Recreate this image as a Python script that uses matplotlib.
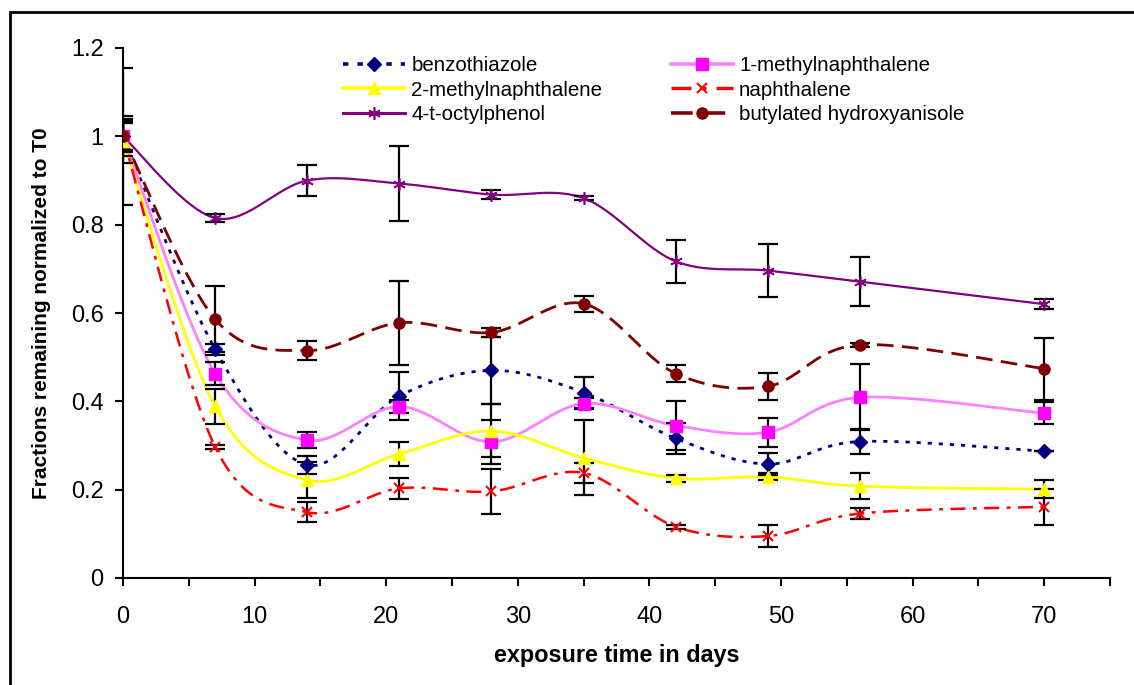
import numpy as np
import matplotlib
matplotlib.use("Agg")
import matplotlib.pyplot as plt
from matplotlib.patches import Rectangle
from matplotlib.ticker import MultipleLocator

plt.rcParams['font.family'] = ['Liberation Sans', 'DejaVu Sans']

days = [0, 7, 14, 21, 28, 35, 42, 49, 56, 70]

names = ["benzothiazole", "1-methylnaphthalene", "2-methylnaphthalene",
         "naphthalene", "4-t-octylphenol", "butylated hydroxyanisole"]

benzothiazole = [1.0, 0.518, 0.256, 0.412, 0.470, 0.420, 0.316, 0.258, 0.309, 0.287]
benzothiazole_err = [0.045, 0.012, 0.02, 0.055, 0.075, 0.035, 0.035, 0.025, 0.028, 0.0]

methylnaph1 = [1.0, 0.463, 0.312, 0.388, 0.308, 0.395, 0.345, 0.330, 0.409, 0.373]
methylnaph1_err = [0.035, 0.025, 0.018, 0.015, 0.05, 0.012, 0.055, 0.033, 0.075, 0.025]

methylnaph2 = [0.99, 0.389, 0.222, 0.281, 0.333, 0.272, 0.226, 0.229, 0.208, 0.201]
methylnaph2_err = [0.05, 0.04, 0.04, 0.027, 0.06, 0.085, 0.008, 0.008, 0.03, 0.02]

naphthalene = [1.0, 0.297, 0.149, 0.203, 0.196, 0.238, 0.116, 0.095, 0.146, 0.161]
naphthalene_err = [0.03, 0.005, 0.022, 0.024, 0.05, 0.022, 0.004, 0.025, 0.012, 0.04]

octylphenol = [1.0, 0.815, 0.900, 0.893, 0.868, 0.860, 0.717, 0.696, 0.671, 0.620]
octylphenol_err = [0.155, 0.01, 0.035, 0.085, 0.01, 0.005, 0.048, 0.06, 0.055, 0.012]

bha = [1.0, 0.586, 0.515, 0.578, 0.556, 0.621, 0.463, 0.434, 0.528, 0.474]
bha_err = [0.03, 0.075, 0.022, 0.095, 0.01, 0.018, 0.02, 0.03, 0.005, 0.07]

series = [benzothiazole, methylnaph1, methylnaph2, naphthalene, octylphenol, bha]
errors = [benzothiazole_err, methylnaph1_err, methylnaph2_err, naphthalene_err, octylphenol_err, bha_err]

styles = [
    dict(color="#000080", ls=(0, (1.5, 2.5)), lw=2.0, marker="D", mfc="#000080", mec="#000080", ms=7),
    dict(color="#FF80FF", ls="-", lw=2.0, marker="s", mfc="#FF00FF", mec="#FF00FF", ms=8),
    dict(color="#FFFF00", ls="-", lw=2.0, marker="^", mfc="#FFFF00", mec="#FFFF00", ms=9),
    dict(color="#FF0000", ls=(0, (6, 3, 1.5, 3)), lw=1.8, marker="x", mfc="#FF0000", mec="#FF0000", ms=7, mew=1.5),
    dict(color="#800080", ls="-", lw=1.6, marker=(6, 2, 0), mfc="#800080", mec="#800080", ms=9, mew=1.2),
    dict(color="#800000", ls=(0, (6, 3)), lw=2.0, marker="o", mfc="#800000", mec="#800000", ms=8),
]


def smooth(x, y, n=30):
    x = np.asarray(x, float)
    y = np.asarray(y, float)
    px, py = [], []
    m = len(x)
    for i in range(m - 1):
        x0, y0 = (x[i - 1], y[i - 1]) if i > 0 else (x[i], y[i])
        x3, y3 = (x[i + 2], y[i + 2]) if i + 2 < m else (x[i + 1], y[i + 1])
        x1, y1 = x[i], y[i]
        x2, y2 = x[i + 1], y[i + 1]
        c1x, c1y = x1 + (x2 - x0) / 6, y1 + (y2 - y0) / 6
        c2x, c2y = x2 - (x3 - x1) / 6, y2 - (y3 - y1) / 6
        t = np.linspace(0, 1, n)
        bx = (1 - t) ** 3 * x1 + 3 * (1 - t) ** 2 * t * c1x + 3 * (1 - t) * t ** 2 * c2x + t ** 3 * x2
        by = (1 - t) ** 3 * y1 + 3 * (1 - t) ** 2 * t * c1y + 3 * (1 - t) * t ** 2 * c2y + t ** 3 * y2
        px.extend(bx)
        py.extend(by)
    return np.array(px), np.array(py)


fig = plt.figure(figsize=(11.34, 6.85), dpi=100)
ax = fig.add_axes([123 / 1134, 1 - 578 / 685, (1110 - 123) / 1134, (578 - 48) / 685])

handles = []
for name, ys, err, st in zip(names, series, errors, styles):
    sx, sy = smooth(days, ys)
    ax.plot(sx, sy, color=st["color"], ls=st["ls"], lw=st["lw"], zorder=2)
    ax.errorbar(days, ys, yerr=err, fmt="none", ecolor="black", elinewidth=1.6,
                capsize=7, capthick=1.6, zorder=3)
    ax.plot(days, ys, ls="none", marker=st["marker"], mfc=st["mfc"], mec=st["mec"],
            ms=st["ms"], mew=st.get("mew", 1), zorder=4)
    h, = ax.plot([], [], color=st["color"], ls=st["ls"], lw=st["lw"] + 0.6, marker=st["marker"],
                 mfc=st["mfc"], mec=st["mec"], ms=st["ms"], mew=st.get("mew", 1))
    handles.append(h)

ax.set_xlim(0, 75)
ax.set_ylim(0, 1.2)
ax.xaxis.set_minor_locator(MultipleLocator(5))
ax.set_xticks(range(0, 71, 10))
ax.set_yticks([0, 0.2, 0.4, 0.6, 0.8, 1.0, 1.2])
ax.set_yticklabels(["0", "0.2", "0.4", "0.6", "0.8", "1", "1.2"])
ax.spines["top"].set_visible(False)
ax.spines["right"].set_visible(False)
ax.spines["left"].set_linewidth(1.5)
ax.spines["bottom"].set_linewidth(1.5)
ax.tick_params(axis="both", which="major", direction="out", length=6, width=1.5, labelsize=17, pad=8)
ax.tick_params(axis="x", which="minor", direction="out", length=6, width=1.5)
ax.tick_params(axis="x", pad=14)

ax.set_xlabel("exposure time in days", fontsize=16.8, fontweight="bold", labelpad=12)
ax.set_ylabel("Fractions remaining normalized to T0", fontsize=15, fontweight="bold", labelpad=14)

# legend filled row by row (two columns)
order = [0, 2, 4, 1, 3, 5]
ax.legend([handles[i] for i in order], [names[i] for i in order], ncol=2, frameon=False,
          fontsize=14.8, loc="upper left", bbox_to_anchor=(0.215, 1.0), handlelength=3.0,
          handletextpad=0.3, columnspacing=3.36, labelspacing=0.26, borderaxespad=0.0)

fig.patches.append(Rectangle((10 / 1134, -0.1), 1.2, 1 - 12 / 685 + 0.1, transform=fig.transFigure,
                             fill=False, edgecolor="black", lw=2))

fig.savefig("out.png", dpi=100)
